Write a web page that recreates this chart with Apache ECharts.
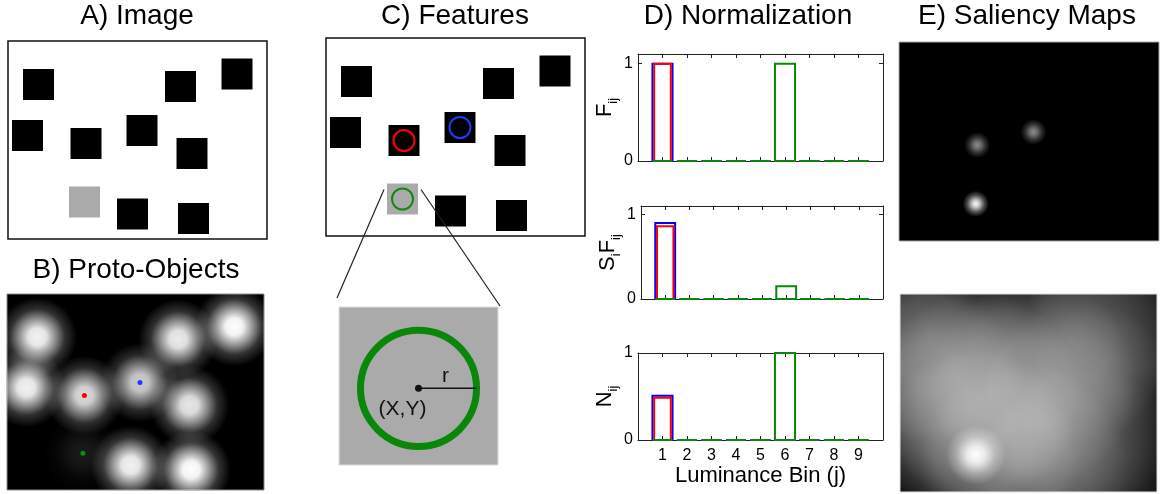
<!DOCTYPE html>
<html><head><meta charset="utf-8">
<script src="https://cdn.jsdelivr.net/npm/echarts@6/dist/echarts.min.js"></script>
<style>html,body{margin:0;padding:0;background:#fff}#c{width:1166px;height:494px}</style>
</head><body><div id="c"></div>
<script>
// ---------------- data ----------------
// object (square) centres in image units (image = 259 x 198)
const objX = [30.5, 172.5, 229, 19.5, 78, 134, 184, 76.5, 124.5, 185.5];
const objY = [43.5, 45.5, 33, 94.5, 102.5, 89.5, 112.5, 161, 173, 177.5];
const objLum = [0, 0, 0, 0, 0, 0, 0, 0.667, 0, 0];
// objects whose features are shown (red, blue, green)
const featIdx = [4, 5, 7];
const featColors = ['#ff0000', '#1a3cff', '#118811'];
// proto-object map peak brightness per object
const protoPeak = [0.95, 0.92, 1.0, 0.95, 0.85, 0.8, 0.9, 0.1, 0.95, 1.0];
// local saliency map peaks (for featIdx objects)
const salLocalPeak = [0.55, 0.55, 1.0];
// global saliency map: broad contribution per object + hot spot
const salGlobalPeak = [0.34, 0.28, 0.15, 0.26, 0.32, 0.28, 0.24, 0.3, 0.26, 0.24];
const salHotIdx = [7];
const salHotPeak = [1.0];
// zoomed feature: centre and radius (zoom units, -1..1)
const zoomCenter = [0, -0.03];
const zoomRadius = [0.73];
// histograms
const bins = [1, 2, 3, 4, 5, 6, 7, 8, 9];
const F_blue  = [1, 0, 0, 0, 0, 0, 0, 0, 0];
const F_red   = [1, 0, 0, 0, 0, 0, 0, 0, 0];
const F_green = [0, 0, 0, 0, 0, 1, 0, 0, 0];
const S_blue  = [0.9, 0, 0, 0, 0, 0, 0, 0, 0];
const S_red   = [0.86, 0, 0, 0, 0, 0, 0, 0, 0];
const S_green = [0, 0, 0, 0, 0, 0.15, 0, 0, 0];
const N_blue  = [0.51, 0, 0, 0, 0, 0, 0, 0, 0];
const N_red   = [0.487, 0, 0, 0, 0, 0, 0, 0, 0];
const N_green = [0, 0, 0, 0, 0, 1, 0, 0, 0];
// ---------------- chart ----------------
const FONT = '"Liberation Sans", Arial, Helvetica, sans-serif';
const chart = echarts.init(document.getElementById('c'), null, {renderer: 'canvas'});

const grids = [
  {left: 8, top: 41, width: 259, height: 198, show: true, backgroundColor: '#fff', borderColor: '#111', borderWidth: 1.5}, // 0 A
  {left: 326, top: 38, width: 259, height: 198, show: true, backgroundColor: '#fff', borderColor: '#111', borderWidth: 1.5}, // 1 C
  {left: 7, top: 294, width: 257, height: 196, show: true, backgroundColor: '#000', borderColor: '#888', borderWidth: 1}, // 2 B
  {left: 339, top: 307, width: 159, height: 158, show: true, backgroundColor: '#aaaaaa', borderColor: '#ddd', borderWidth: 1}, // 3 zoom
  {left: 638, top: 54, width: 245, height: 107}, // 4 D1
  {left: 641, top: 206, width: 242, height: 93}, // 5 D2
  {left: 638, top: 353, width: 245, height: 87}, // 6 D3
  {left: 899, top: 42, width: 260, height: 199, show: true, backgroundColor: '#000', borderColor: '#aaa', borderWidth: 1}, // 7 E1
  {left: 900, top: 294, width: 257, height: 198, show: true, backgroundColor: '#000', borderColor: '#ddd', borderWidth: 1} // 8 E2
];
const xAxes = [], yAxes = [];
const ax = {}; // gridIndex -> {x, y}
function imgAxes(gi) {
  ax[gi] = {x: xAxes.length, y: yAxes.length};
  xAxes.push({gridIndex: gi, type: 'value', min: 0, max: 259, show: false});
  yAxes.push({gridIndex: gi, type: 'value', min: 0, max: 198, inverse: true, show: false});
}
[0, 1, 2, 7, 8].forEach(imgAxes);
ax[3] = {x: xAxes.length, y: yAxes.length};
xAxes.push({gridIndex: 3, type: 'value', min: -1, max: 1, show: false});
yAxes.push({gridIndex: 3, type: 'value', min: -1, max: 1, show: false});

const lineStyle = {color: '#222', width: 1};
const axLine = {show: true, onZero: false, lineStyle};
const binLabel = v => (v >= bins[0] && v <= bins[bins.length - 1]) ? String(v) : '';
const yLabel = v => (v === 0 || v === 1) ? String(v) : '';
function histAxes(gi, ymax, nameRich, showX) {
  ax[gi] = {x: xAxes.length, y: yAxes.length};
  xAxes.push({gridIndex: gi, type: 'value', min: 0, max: 10, interval: 1, position: 'bottom',
    axisLine: axLine, splitLine: {show: false},
    axisTick: {show: true, inside: true, length: 4, lineStyle},
    axisLabel: {show: showX, formatter: binLabel, color: '#000', fontSize: 16, fontFamily: FONT, margin: 8},
    name: showX ? 'Luminance Bin (j)' : '', nameLocation: 'middle', nameGap: 25,
    nameTextStyle: {color: '#000', fontSize: 22, fontFamily: FONT}});
  xAxes.push({gridIndex: gi, type: 'value', min: 0, max: 10, interval: 1, position: 'top',
    axisLine: axLine, splitLine: {show: false},
    axisTick: {show: true, inside: true, length: 4, lineStyle},
    axisLabel: {show: false}});
  yAxes.push({gridIndex: gi, type: 'value', min: 0, max: ymax, interval: 1, position: 'left',
    axisLine: axLine, splitLine: {show: false},
    axisTick: {show: true, inside: true, length: 4, lineStyle},
    axisLabel: {show: true, formatter: yLabel, color: '#000', fontSize: 16, fontFamily: FONT, margin: 5},
    name: nameRich, nameLocation: 'middle', nameRotate: 90, nameGap: 17,
    nameTextStyle: {color: '#000', fontFamily: FONT, rich: {
      b: {fontSize: 22, fontFamily: FONT, lineHeight: 30, color: '#000'},
      s: {fontSize: 13, fontFamily: FONT, lineHeight: 13, verticalAlign: 'bottom', color: '#000'}}}});
  yAxes.push({gridIndex: gi, type: 'value', min: 0, max: ymax, interval: 1, position: 'right',
    axisLine: axLine, splitLine: {show: false},
    axisTick: {show: true, inside: true, length: 4, lineStyle},
    axisLabel: {show: false}});
}
histAxes(4, 1.1, '{b|F}{s|ij}', false);
histAxes(5, 1.1, '{b|S}{s|i}{b|F}{s|ij}', false);
histAxes(6, 1.0, '{b|N}{s|ij}', true);

function lumColor(l) { const v = Math.round(l * 255); return 'rgb(' + v + ',' + v + ',' + v + ')'; }
const series = [];
// squares in A and C
[0, 1].forEach(gi => {
  series.push({type: 'scatter', xAxisIndex: ax[gi].x, yAxisIndex: ax[gi].y, symbol: 'rect', symbolSize: 31,
    silent: true, animation: false, itemStyle: {opacity: 1},
    data: objX.map((x, i) => ({value: [x, objY[i]], itemStyle: {color: lumColor(objLum[i]), opacity: 1}}))});
});
// feature circles in C
series.push({type: 'scatter', xAxisIndex: ax[1].x, yAxisIndex: ax[1].y, symbol: 'circle', symbolSize: 21,
  silent: true, animation: false, z: 3, itemStyle: {opacity: 1},
  data: featIdx.map((k, i) => ({value: [objX[k], objY[k]], itemStyle: {color: 'rgba(0,0,0,0)', borderColor: featColors[i], borderWidth: 2, opacity: 1}}))});

// blob renderer
function blobSeries(gi, data, radius, stops) {
  return {type: 'custom', xAxisIndex: ax[gi].x, yAxisIndex: ax[gi].y, clip: true, silent: true, animation: false,
    data: data,
    renderItem(params, api) {
      const c = api.coord([api.value(0), api.value(1)]);
      const r = api.size([radius, 0])[0];
      const a = api.value(2);
      return {type: 'circle', shape: {cx: c[0], cy: c[1], r: r},
        style: {fill: {type: 'radial', x: 0.5, y: 0.5, r: 0.5,
          colorStops: stops.map(s => ({offset: s[0], color: 'rgba(255,255,255,' + (a * s[1]).toFixed(3) + ')'}))}}};
    }};
}
// B proto-objects
series.push(blobSeries(2, objX.map((x, i) => [x, objY[i], protoPeak[i]]), 40,
  [[0, 1], [0.22, 0.95], [0.45, 0.6], [0.7, 0.2], [1, 0]]));
series.push({type: 'scatter', xAxisIndex: ax[2].x, yAxisIndex: ax[2].y, symbolSize: 5, silent: true, animation: false, z: 5,
  itemStyle: {opacity: 1},
  data: featIdx.map((k, i) => ({value: [objX[k], objY[k]], itemStyle: {color: featColors[i], opacity: 1}}))});
// E1 local saliency
series.push(blobSeries(7, featIdx.map((k, i) => [objX[k], objY[k], salLocalPeak[i]]), 13,
  [[0, 1], [0.3, 0.75], [0.65, 0.3], [1, 0]]));
// E2 global saliency
series.push(blobSeries(8, objX.map((x, i) => [x, objY[i], salGlobalPeak[i]]), 105,
  [[0, 1], [0.4, 0.8], [0.75, 0.35], [1, 0]]));
series.push(blobSeries(8, salHotIdx.map((k, i) => [objX[k], objY[k], salHotPeak[i]]), 30,
  [[0, 1], [0.3, 0.8], [0.65, 0.3], [1, 0]]));

// zoomed feature
series.push({type: 'custom', xAxisIndex: ax[3].x, yAxisIndex: ax[3].y, silent: true, animation: false,
  data: [[zoomCenter[0], zoomCenter[1], zoomRadius[0]]],
  renderItem(params, api) {
    const c = api.coord([api.value(0), api.value(1)]);
    const r = api.size([api.value(2), 0])[0];
    return {type: 'group', children: [
      {type: 'circle', shape: {cx: c[0], cy: c[1], r: r}, style: {fill: 'none', stroke: '#0a870a', lineWidth: 7}},
      {type: 'line', shape: {x1: c[0], y1: c[1], x2: c[0] + r, y2: c[1]}, style: {stroke: '#111', lineWidth: 1.5}},
      {type: 'circle', shape: {cx: c[0], cy: c[1], r: 3.5}, style: {fill: '#111'}},
      {type: 'text', x: c[0] + 27, y: c[1] - 12, style: {text: 'r', font: '21px ' + FONT, fill: '#111', align: 'center', verticalAlign: 'middle'}},
      {type: 'text', x: c[0] - 16, y: c[1] + 21, style: {text: '(X,Y)', font: '21px ' + FONT, fill: '#111', align: 'center', verticalAlign: 'middle'}}
    ]};
  }});

// histograms
function hist(gi, vals, color, w, z) {
  return {type: 'custom', xAxisIndex: ax[gi].x, yAxisIndex: ax[gi].y, silent: true, animation: false, z: z,
    data: bins.map((b, i) => [b, vals[i]]),
    renderItem(params, api) {
      const x = api.value(0), y = api.value(1);
      const p0 = api.coord([x - w / 2, 0]);
      const p1 = api.coord([x + w / 2, y]);
      return {type: 'rect', shape: {x: p0[0], y: p1[1], width: p1[0] - p0[0], height: p0[1] - p1[1]},
        style: {fill: 'none', stroke: color, lineWidth: 2}};
    }};
}
const BLUE = '#0000ff', RED = '#ff0000', GREEN = '#0a870a';
[[4, F_blue, F_red, F_green], [5, S_blue, S_red, S_green], [6, N_blue, N_red, N_green]].forEach(r => {
  series.push(hist(r[0], r[1], BLUE, 0.82, 3));
  series.push(hist(r[0], r[2], RED, 0.68, 4));
  series.push(hist(r[0], r[3], GREEN, 0.82, 5));
});

const titleStyle = (t, x, y) => ({type: 'text', x: x, y: y, z: 10,
  style: {text: t, font: '28px ' + FONT, fill: '#000', align: 'center', verticalAlign: 'middle'}});
const option = {
  animation: false,
  backgroundColor: '#fff',
  grid: grids, xAxis: xAxes, yAxis: yAxes, series: series,
  graphic: [
    titleStyle('A) Image', 137, 16),
    titleStyle('C) Features', 455, 16),
    titleStyle('D) Normalization', 748, 16),
    titleStyle('E) Saliency Maps', 1027, 16),
    titleStyle('B) Proto-Objects', 136, 270)
  ]
};
chart.setOption(option);

// connecting lines from the grey square in C to the zoomed view
const k = featIdx[2];
const sc = chart.convertToPixel({gridIndex: 1}, [objX[k], objY[k]]);
const tl = chart.convertToPixel({gridIndex: 3}, [-1, 1]);
const tr = chart.convertToPixel({gridIndex: 3}, [1, 1]);
const half = 15.5;
chart.setOption({graphic: option.graphic.concat([
  {type: 'line', z: 10, shape: {x1: sc[0] - half - 3, y1: sc[1] - half + 6, x2: tl[0] - 2, y2: tl[1] - 9}, style: {stroke: '#222', lineWidth: 1.2}},
  {type: 'line', z: 10, shape: {x1: sc[0] + half + 3, y1: sc[1] - half + 6, x2: tr[0] + 2, y2: tr[1] - 1}, style: {stroke: '#222', lineWidth: 1.2}}
])});
</script>
</body></html>
